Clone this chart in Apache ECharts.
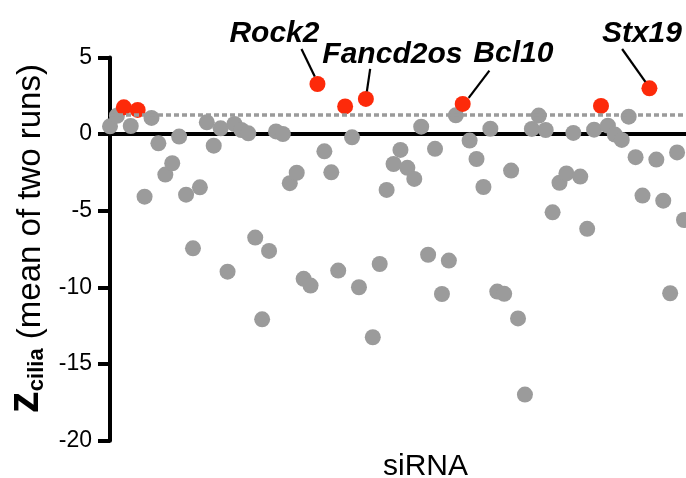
<!DOCTYPE html>
<html>
<head>
<meta charset="utf-8">
<script src="https://cdn.jsdelivr.net/npm/echarts@6/dist/echarts.min.js"></script>
<style>
  html, body { margin: 0; padding: 0; background: #fff; }
  #chart { width: 686px; height: 478px; }
</style>
</head>
<body>
<div id="chart"></div>
<script>
// siRNA screen: ciliation z-score (mean of two runs) per siRNA, in plate order
const siRNAIndex = [];
for (let i = 1; i <= 84; i++) siRNAIndex.push(i);

const zCilia = [
   0.51,  1.20,  1.75,  0.53,  1.58, -4.08,  1.06, -0.60, -2.64, -1.90,
  -0.16, -3.95, -7.45, -3.47,  0.77, -0.75,  0.38, -8.97,  0.66,  0.27,
   0.05, -6.75,-12.08, -7.62,  0.18,  0.01, -3.20, -2.52, -9.44, -9.88,
   3.27, -1.12, -2.49, -8.90,  1.81, -0.21, -9.99,  2.30,-13.25, -8.47,
  -3.64, -1.95, -1.03, -2.20, -2.92,  0.49, -7.87, -0.96,-10.43, -8.25,
   1.23,  1.97, -0.42, -1.62, -3.45,  0.35,-10.27,-10.42, -2.38,-12.02,
 -16.99,  0.34,  1.21,  0.27, -5.10, -3.17, -2.56,  0.08, -2.77, -6.18,
   0.29,  1.84,  0.55, -0.03, -0.38,  1.14, -1.50, -4.01,  2.99, -1.66,
  -4.34,-10.38, -1.19, -5.60
];

// siRNAs scoring above the threshold (1-based positions)
const hitPositions = [3, 5, 31, 35, 38, 52, 72, 79];
// named hits
const hitNames = { 31: 'Rock2', 38: 'Fancd2os', 52: 'Bcl10', 79: 'Stx19' };

const threshold = 1.28;
const yTicks = [5, 0, -5, -10, -15, -20];

// callout geometry relative to the point (px): leader line and label centre
const callout = {
  Rock2:    { line: [-16, -35, -2.7, -7.5], text: [-43, -50] },
  Fancd2os: { line: [4.3, -30, 1, -7.5],    text: [26.5, -44] },
  Bcl10:    { line: [26.7, -33.3, 6, -6],   text: [50.7, -50] },
  Stx19:    { line: [-27.3, -39.3, -4, -6.5], text: [-7.5, -54.5] }
};

const FONT = '"Liberation Sans", Arial, Helvetica, sans-serif';
const GRAY = '#9b9b9b';
const RED = '#fd2a0a';

const grayData = [], redData = [], labelData = [];
siRNAIndex.forEach((x, k) => {
  const pt = [x, zCilia[k]];
  if (hitPositions.indexOf(x) >= 0) {
    redData.push(pt);
    if (hitNames[x]) labelData.push({ value: pt, name: hitNames[x] });
  } else {
    grayData.push(pt);
  }
});

const chart = echarts.init(document.getElementById('chart'));
chart.setOption({
  animation: false,
  backgroundColor: '#fff',
  title: {
    text: 'siRNA',
    left: 378, top: 447,
    textStyle: { fontFamily: FONT, fontSize: 30, fontWeight: 'normal', color: '#000' }
  },
  grid: { left: 110, right: 0, top: 57.5, bottom: 37.3, containLabel: false, outerBoundsMode: 'none' },
  xAxis: {
    type: 'value', min: 1, max: 84.29,
    axisLine: { show: true, onZero: true, lineStyle: { color: '#000', width: 4 } },
    axisTick: { show: false }, axisLabel: { show: false }, splitLine: { show: false }
  },
  yAxis: {
    type: 'value', min: yTicks[yTicks.length - 1], max: yTicks[0], interval: 5,
    axisLine: { show: true, onZero: false, lineStyle: { color: '#000', width: 4 } },
    axisTick: { show: true, inside: false, length: 12, lineStyle: { color: '#000', width: 4 } },
    axisLabel: { margin: 18, color: '#000', fontFamily: FONT, fontSize: 23,
      formatter: v => (yTicks.indexOf(v) >= 0 ? String(v) : '') },
    splitLine: { show: false },
    name: '{z|z}{c|cilia}{r| (mean of two runs)}',
    nameLocation: 'middle',
    nameGap: 62,
    nameTextStyle: {
      color: '#000', fontFamily: FONT,
      padding: [0, 0, 0, 21],
      rich: {
        z: { fontSize: 44, fontWeight: 'bold', fontFamily: FONT, color: '#000', verticalAlign: 'bottom' },
        c: { fontSize: 22, fontWeight: 'bold', fontFamily: FONT, color: '#000', verticalAlign: 'bottom' },
        r: { fontSize: 33, fontWeight: 'normal', fontFamily: FONT, color: '#000', verticalAlign: 'bottom' }
      }
    }
  },
  series: [
    {
      name: 'threshold', type: 'line', data: [], z: 1, silent: true,
      markLine: {
        silent: true, symbol: 'none', animation: false,
        label: { show: false },
        lineStyle: { color: GRAY, width: 3.5, type: [5, 3] },
        data: [{ yAxis: threshold }]
      }
    },
    {
      name: 'siRNA', type: 'scatter', data: grayData, z: 3,
      symbol: 'circle', symbolSize: 16,
      itemStyle: { color: GRAY, opacity: 1 }
    },
    {
      name: 'hits', type: 'scatter', data: redData, z: 4,
      symbol: 'circle', symbolSize: 16,
      itemStyle: { color: RED, opacity: 1 }
    },
    {
      name: 'callouts', type: 'custom', data: labelData, z: 5, clip: false, silent: true,
      renderItem: function (params, api) {
        const name = labelData[params.dataIndex].name;
        const c = callout[name];
        const p = api.coord([api.value(0), api.value(1)]);
        return {
          type: 'group',
          children: [
            { type: 'line',
              shape: { x1: p[0] + c.line[0], y1: p[1] + c.line[1], x2: p[0] + c.line[2], y2: p[1] + c.line[3] },
              style: { stroke: '#000', lineWidth: 2.2 } },
            { type: 'text',
              style: { text: name, x: p[0] + c.text[0], y: p[1] + c.text[1],
                align: 'center', verticalAlign: 'middle',
                font: 'italic bold 30px ' + FONT, fill: '#000' } }
          ]
        };
      }
    }
  ]
});
</script>
</body>
</html>
